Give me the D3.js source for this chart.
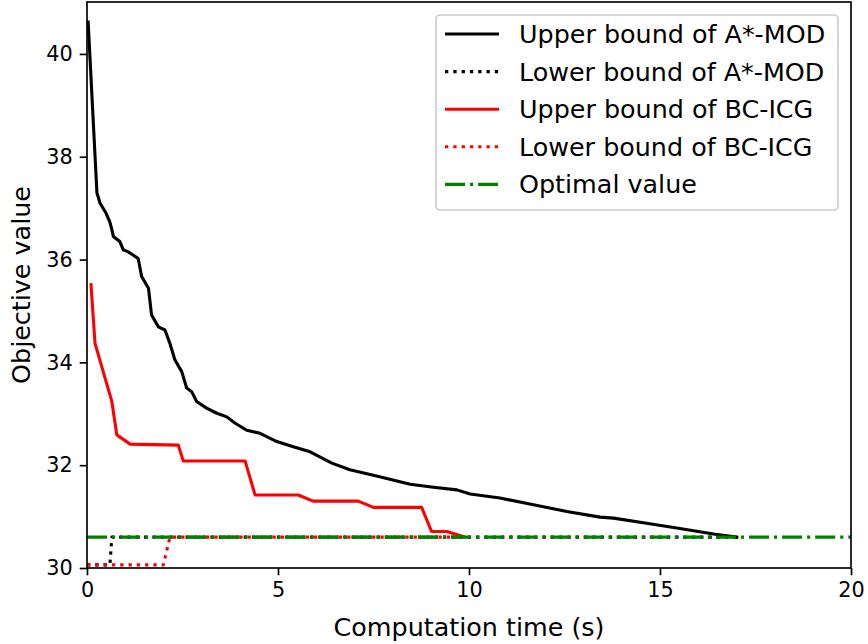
<html>
<head>
<meta charset="utf-8">
<title>Objective value vs computation time</title>
<style>
  body { margin: 0; background: #fff; }
  text { font-family: "DejaVu Sans", sans-serif; }
</style>
</head>
<body>
<script src="https://cdn.jsdelivr.net/npm/d3@7"></script>
<script>

// data
var upperAstarT = [0.03, 0.26, 0.34, 0.5, 0.6, 0.65, 0.69, 0.86, 0.95, 1.08, 1.34, 1.43, 1.61, 1.69, 1.87, 2.04, 2.17, 2.30, 2.48, 2.61, 2.74, 2.87, 3.13, 3.40, 3.66, 3.87, 4.18, 4.53, 4.97, 5.40, 5.84, 6.41, 6.88, 7.58, 8.46, 9.07, 9.68, 10.03, 10.81, 11.69, 12.56, 13.43, 13.78, 14.65, 15.52, 16.40, 17.01];
var upperAstarV = [40.62, 37.3, 37.1, 36.9, 36.73, 36.58, 36.45, 36.35, 36.19, 36.15, 36.02, 35.67, 35.44, 34.92, 34.69, 34.63, 34.37, 34.05, 33.82, 33.50, 33.43, 33.24, 33.11, 33.01, 32.94, 32.82, 32.68, 32.62, 32.46, 32.36, 32.26, 32.04, 31.91, 31.79, 31.63, 31.57, 31.52, 31.44, 31.36, 31.23, 31.10, 30.99, 30.97, 30.87, 30.77, 30.66, 30.60];

var lowerAstarT = [0.0, 0.6, 0.65, 17.01];
var lowerAstarV = [30.06, 30.06, 30.60, 30.60];

var upperIcgT = [0.105, 0.21, 0.65, 0.78, 1.13, 2.39, 2.52, 4.14, 4.40, 5.53, 5.92, 7.10, 7.50, 8.76, 9.02, 9.42, 9.85];
var upperIcgV = [35.51, 34.37, 33.24, 32.59, 32.41, 32.39, 32.08, 32.08, 31.42, 31.42, 31.30, 31.30, 31.18, 31.18, 30.71, 30.71, 30.61];

var lowerIcgT = [0.0, 2.0, 2.17, 9.85];
var lowerIcgV = [30.06, 30.06, 30.60, 30.60];

var optimalT = [0, 20];
var optimalV = [30.60, 30.60];

var xTicks = [0, 5, 10, 15, 20];
var yTicks = [30, 32, 34, 36, 38, 40];

var labels = ["Upper bound of A*-MOD", "Lower bound of A*-MOD", "Upper bound of BC-ICG", "Lower bound of BC-ICG", "Optimal value"];
var colors = ["#000000", "#000000", "#ff0000", "#ff0000", "#008000"];
var dashes = [null, "3.3,5", null, "3.3,5", "20,5,3.1,5"];

var width = 868, height = 644;
var mLeft = 87, mTop = 2, mRight = 851, mBottom = 568;
var tickFs = 20.8, labelFs = 25.4;

var svg = d3.select("body").append("svg")
    .attr("width", width)
    .attr("height", height);

var x = d3.scaleLinear().domain([0, 20]).range([mLeft, mRight]);
var y = d3.scaleLinear().domain([30, 41.01]).range([mBottom, mTop]);

var series = [
  [upperAstarT, upperAstarV],
  [lowerAstarT, lowerAstarV],
  [upperIcgT, upperIcgV],
  [lowerIcgT, lowerIcgV],
  [optimalT, optimalV]
];

var line = d3.line()
    .x(function(d){ return x(d[0]); })
    .y(function(d){ return y(d[1]); });

var plot = svg.append("g");
series.forEach(function(s, i){
  var pts = s[0].map(function(t, j){ return [t, s[1][j]]; });
  plot.append("path")
      .attr("d", line(pts))
      .attr("fill", "none")
      .attr("stroke", colors[i])
      .attr("stroke-width", 3.1)
      .attr("stroke-linejoin", "round")
      .attr("stroke-linecap", dashes[i] ? "butt" : "square")
      .attr("stroke-dasharray", dashes[i]);
});

// axes
var xAxis = svg.append("g")
    .attr("transform", "translate(0," + mBottom + ")")
    .call(d3.axisBottom(x).tickValues(xTicks).tickSize(7.3).tickPadding(7));
var yAxis = svg.append("g")
    .attr("transform", "translate(" + mLeft + ",0)")
    .call(d3.axisLeft(y).tickValues(yTicks).tickSize(7.3).tickPadding(7));

[xAxis, yAxis].forEach(function(a){
  a.select(".domain").remove();
  a.selectAll("line").attr("stroke", "#000").attr("stroke-width", 1.67);
  a.selectAll("text").attr("font-size", tickFs).attr("fill", "#000")
      .style("font-family", "DejaVu Sans");
});

// frame
svg.append("rect")
    .attr("x", mLeft).attr("y", mTop)
    .attr("width", mRight - mLeft).attr("height", mBottom - mTop)
    .attr("fill", "none").attr("stroke", "#000").attr("stroke-width", 1.67);

svg.append("text")
    .attr("x", (mLeft + mRight) / 2).attr("y", 636)
    .attr("text-anchor", "middle").attr("font-size", labelFs)
    .text("Computation time (s)");

svg.append("text")
    .attr("transform", "translate(30," + ((mTop + mBottom) / 2) + ") rotate(-90)")
    .attr("text-anchor", "middle").attr("font-size", labelFs)
    .text("Objective value");

// legend
var lg = svg.append("g");
lg.append("rect")
    .attr("x", 436).attr("y", 15).attr("width", 402).attr("height", 195)
    .attr("rx", 4).attr("fill", "#fff").attr("fill-opacity", 0.8)
    .attr("stroke", "#cccccc").attr("stroke-width", 1.67);

labels.forEach(function(lab, i){
  var cy = 34 + i * 37.6;
  lg.append("line")
      .attr("x1", 445).attr("x2", 499).attr("y1", cy).attr("y2", cy)
      .attr("stroke", colors[i]).attr("stroke-width", 3.1)
      .attr("stroke-dasharray", dashes[i]);
  lg.append("text")
      .attr("x", 519).attr("y", cy + 9)
      .attr("font-size", labelFs)
      .text(lab);
});

</script>
</body>
</html>
